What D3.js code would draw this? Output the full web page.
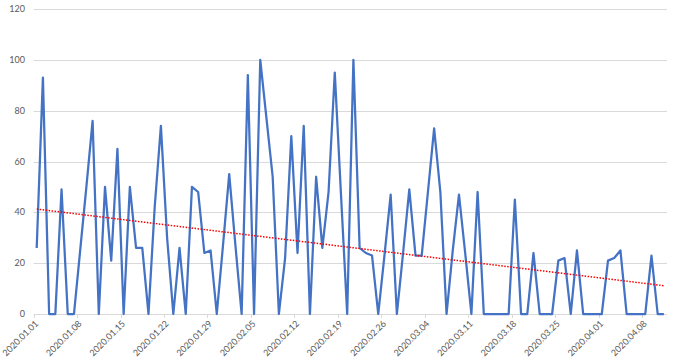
<!DOCTYPE html>
<html>
<head>
<meta charset="utf-8">
<script src="https://cdn.jsdelivr.net/npm/d3@7"></script>
<style>
    body { margin: 0; background: #fff; }
    svg text { font-family: Lato, "Open Sans", sans-serif; fill: #595959; }
</style>
</head>
<body>
<svg id="chart" width="682" height="362"></svg>
<script>
// daily values, 2020.01.01 .. 2020.04.11
var startDate = new Date(2020, 0, 1);
var values = [
    26, 93, 0, 0, 49, 0, 0, 25, 50, 76,
    0, 50, 21, 65, 0, 50, 26, 26, 0, 42,
    74, 30, 0, 26, 0, 50, 48, 24, 25, 0,
    27, 55, 27, 0, 94, 0, 100, 77, 54, 0,
    22, 70, 24, 74, 0, 54, 26, 48, 95, 47,
    0, 100, 26, 24, 23, 0, 23, 47, 0, 24,
    49, 23, 23, 48, 73, 48, 0, 25, 47, 24,
    0, 48, 0, 0, 0, 0, 0, 45, 0, 0,
    24, 0, 0, 0, 21, 22, 0, 25, 0, 0,
    0, 0, 21, 22, 25, 0, 0, 0, 0, 23,
    0, 0
];
var yTicks = [0, 20, 40, 60, 80, 100, 120];
var labelEvery = 7;

var svg = d3.select("#chart");

// plot area
var _left = 33.6, _right = 667, _top = 9, _bottom = 314;

var dates = values.map(function(v, i) {
    return d3.timeDay.offset(startDate, i);
});

var x = d3.scaleLinear().domain([0, values.length]).range([_left, _right]);
var y = d3.scaleLinear().domain([0, 120]).range([_bottom, _top]);
var fmt = d3.timeFormat("%Y.%m.%d");

// gridlines
svg.append("g")
    .selectAll("line")
    .data(yTicks)
    .enter()
    .append("line")
        .attr("x1", _left)
        .attr("x2", _right)
        .attr("y1", function(d) { return Math.round(y(d)) + 0.5; })
        .attr("y2", function(d) { return Math.round(y(d)) + 0.5; })
        .attr("stroke", "#d9d9d9")
        .attr("stroke-width", 1);

// y labels
svg.append("g")
    .selectAll("text")
    .data(yTicks)
    .enter()
    .append("text")
        .attr("x", 25)
        .attr("y", function(d) { return y(d); })
        .attr("dy", ".35em")
        .style("text-anchor", "end")
        .style("font-size", "9px")
        .text(function(d) { return d; });

// x ticks + labels
var tickIdx = d3.range(0, values.length, labelEvery);

svg.append("g")
    .selectAll("line")
    .data(tickIdx)
    .enter()
    .append("line")
        .attr("x1", function(d) { return Math.round(x(d)) + 0.5; })
        .attr("x2", function(d) { return Math.round(x(d)) + 0.5; })
        .attr("y1", _bottom)
        .attr("y2", _bottom + 4)
        .attr("stroke", "#d9d9d9");

svg.append("g")
    .selectAll("text")
    .data(tickIdx)
    .enter()
    .append("text")
        .attr("transform", function(d) {
            return "translate(" + (x(d) + 3) + "," + (_bottom + 8) + ") rotate(-45)";
        })
        .attr("dy", ".35em")
        .style("text-anchor", "end")
        .style("font-size", "9px")
        .text(function(d) { return fmt(dates[d]); });

// data line
var line = d3.line()
    .x(function(d, i) { return x(i + 0.5); })
    .y(function(d) { return y(d); });

svg.append("path")
    .datum(values)
    .attr("d", line)
    .attr("fill", "none")
    .attr("stroke", "#4472c4")
    .attr("stroke-width", 2.25)
    .attr("stroke-linejoin", "round");

// linear trendline (least squares)
var n = values.length;
var mx = d3.mean(values, function(d, i) { return i; });
var my = d3.mean(values);
var sxy = d3.sum(values, function(d, i) { return (i - mx) * (d - my); });
var sxx = d3.sum(values, function(d, i) { return (i - mx) * (i - mx); });
var slope = sxy / sxx;
var icpt = my - slope * mx;

svg.append("line")
    .attr("x1", x(0.5))
    .attr("y1", y(icpt))
    .attr("x2", x(n - 0.5))
    .attr("y2", y(icpt + slope * (n - 1)))
    .attr("stroke", "#ff0000")
    .attr("stroke-width", 1.5)
    .attr("stroke-dasharray", "1.5,1.5");
</script>
</body>
</html>
